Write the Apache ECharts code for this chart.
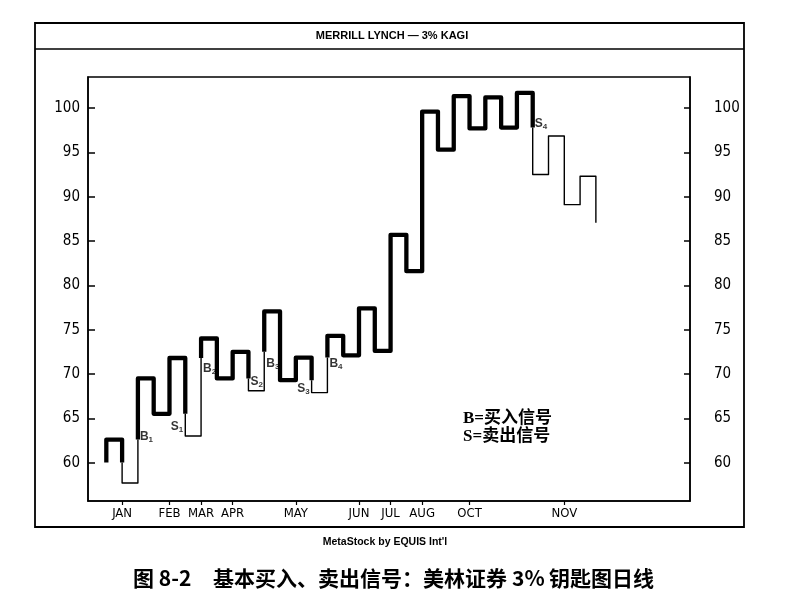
<!DOCTYPE html>
<html>
<head>
<meta charset="utf-8">
<script src="https://cdn.jsdelivr.net/npm/echarts@6/dist/echarts.min.js"></script>
<style>
  html, body { margin: 0; padding: 0; background: #fff; }
  #chart { width: 794px; height: 606px; }
</style>
</head>
<body>
<div id="chart"></div>
<script>
// turning levels of the kagi line, one vertical between each pair
var kagiLevels = [60, 62.6, 57.7, 69.5, 65.5, 71.8, 63.0, 74.0, 69.5, 72.5, 68.1, 77.05,
  69.3, 71.85, 67.9, 74.3, 72.1, 77.4, 72.6, 85.7, 81.6, 99.6, 95.3, 101.35, 97.7,
  101.2, 97.8, 101.7, 92.5, 96.85, 89.1, 92.3, 87.05];
var monthTicks = [1, 4, 6, 8, 12, 16, 18, 20, 23, 29];
var monthNames = ['JAN', 'FEB', 'MAR', 'APR', 'MAY', 'JUN', 'JUL', 'AUG', 'OCT', 'NOV'];
var priceTicks = [60, 65, 70, 75, 80, 85, 90, 95, 100];
var signalNames = ['B1', 'S1', 'B2', 'S2', 'B3', 'S3', 'B4', 'S4'];

// label side / vertical nudge for each signal
var signalPlace = {
  B1: ['right', -3], S1: ['left', 13], B2: ['right', 11], S2: ['right', 3],
  B3: ['right', 12], S3: ['left', 9], B4: ['right', 6], S4: ['right', -4]
};

var narrow = '"DejaVu Sans Condensed", "DejaVu Sans", sans-serif';

// split the line into thick (yang) and thin (yin) runs
var runs = [];
var turns = [];
var thick = true, shoulder = null, waist = kagiLevels[0];
var cur = { thick: true, pts: [[0, kagiLevels[0]]] };
function turn(x, y) {
  cur.pts.push([x, y]);
  runs.push(cur);
  thick = !thick;
  cur = { thick: thick, pts: [[x, y]] };
  turns.push([x, y]);
}
for (var i = 0; i < kagiLevels.length - 1; i++) {
  var a = kagiLevels[i], b = kagiLevels[i + 1];
  if (b > a) {
    if (!thick && shoulder !== null && b > shoulder) turn(i, shoulder);
    shoulder = b;
  } else {
    if (thick && b < waist) turn(i, waist);
    waist = b;
  }
  cur.pts.push([i, b]);
  if (i < kagiLevels.length - 2) cur.pts.push([i + 1, b]);
}
runs.push(cur);

var series = runs.map(function (r) {
  return {
    type: 'line',
    data: r.pts,
    showSymbol: false,
    silent: true,
    lineStyle: { color: '#000', width: r.thick ? 4.3 : 1.4, join: 'round' }
  };
});

// the first turn (below the opening level) carries no signal label
var signalData = turns.slice(1).map(function (t, k) {
  var name = signalNames[k];
  var pl = signalPlace[name];
  return {
    value: [t[0], t[1]],
    name: name,
    label: { position: pl[0], distance: 2, offset: [0, pl[1]] }
  };
});

series.push({
  type: 'scatter',
  data: signalData,
  symbolSize: 0,
  silent: true,
  label: {
    show: true,
    formatter: function (p) {
      return '{m|' + p.name.charAt(0) + '}{s|' + p.name.slice(1) + '}';
    },
    rich: {
      m: { fontSize: 12, fontWeight: 'bold', color: '#000', fontFamily: 'Liberation Sans' },
      s: { fontSize: 8, fontWeight: 'bold', color: '#000', fontFamily: 'Liberation Sans', padding: [6, 0, 0, 0] }
    }
  }
});

function priceAxis(pos, tickLen, margin) {
  return {
    type: 'value',
    position: pos,
    min: 55.67,
    max: 103.5,
    axisLine: { show: true, onZero: false, lineStyle: { color: '#000', width: 1.5 } },
    axisTick: { show: true, inside: true, length: tickLen, customValues: priceTicks,
      lineStyle: { color: '#000', width: 1.5 } },
    axisLabel: { customValues: priceTicks, margin: margin, color: '#000',
      fontSize: 15, fontFamily: narrow },
    splitLine: { show: false }
  };
}

var chart = echarts.init(document.getElementById('chart'), null, { renderer: 'canvas' });
chart.setOption({
  animation: false,
  backgroundColor: '#fff',
  grid: { left: 88, right: 104, top: 77, bottom: 105, show: true,
    borderColor: '#000', borderWidth: 1.5, backgroundColor: 'transparent' },
  xAxis: {
    type: 'value',
    min: -1.16,
    max: 36.96,
    axisLine: { show: true, onZero: false, lineStyle: { color: '#000', width: 1.5 } },
    axisTick: { show: true, length: 4, customValues: monthTicks,
      lineStyle: { color: '#000', width: 1.2 } },
    axisLabel: {
      customValues: monthTicks,
      margin: 6,
      color: '#000',
      fontSize: 13,
      fontFamily: narrow,
      formatter: function (v) { return monthNames[monthTicks.indexOf(v)] || ''; }
    },
    splitLine: { show: false }
  },
  yAxis: [priceAxis('left', 7, 8), priceAxis('right', 6, 24)],
  series: series,
  graphic: [
    { type: 'rect', shape: { x: 35, y: 23, width: 709, height: 504 },
      style: { fill: 'none', stroke: '#000', lineWidth: 1.8 } },
    { type: 'line', shape: { x1: 35, y1: 49, x2: 744, y2: 49 },
      style: { stroke: '#000', lineWidth: 1.5 } },
    { type: 'text', x: 392, y: 36,
      style: { text: 'MERRILL LYNCH \u2014 3% KAGI', fill: '#000', fontSize: 11,
        fontWeight: 'bold', fontFamily: 'Liberation Sans', align: 'center', verticalAlign: 'middle' } },
    { type: 'text', x: 385, y: 542,
      style: { text: "MetaStock by EQUIS Int'l", fill: '#000', fontSize: 10.5,
        fontWeight: 'bold', fontFamily: 'Liberation Sans', align: 'center', verticalAlign: 'middle' } },
    { type: 'text', x: 463, y: 419,
      style: { text: 'B=买入信号', fill: '#000', fontSize: 17, fontWeight: 'bold',
        fontFamily: '"Liberation Serif", "Noto Sans CJK SC"', verticalAlign: 'middle' } },
    { type: 'text', x: 463, y: 437,
      style: { text: 'S=卖出信号', fill: '#000', fontSize: 17, fontWeight: 'bold',
        fontFamily: '"Liberation Serif", "Noto Sans CJK SC"', verticalAlign: 'middle' } },
    { type: 'text', x: 133, y: 578,
      style: { text: '图 8-2', fill: '#000', fontSize: 21, fontWeight: 'bold',
        fontFamily: '"Noto Sans CJK SC"', verticalAlign: 'middle' } },
    { type: 'text', x: 213, y: 578,
      style: { text: '基本买入、卖出信号：美林证券', fill: '#000', fontSize: 21, fontWeight: 'bold',
        fontFamily: '"Noto Sans CJK SC"', verticalAlign: 'middle' } },
    { type: 'text', x: 512, y: 578,
      style: { text: '3%', fill: '#000', fontSize: 21, fontWeight: 'bold',
        fontFamily: '"Noto Sans CJK SC"', verticalAlign: 'middle' } },
    { type: 'text', x: 549, y: 578,
      style: { text: '钥匙图日线', fill: '#000', fontSize: 21, fontWeight: 'bold',
        fontFamily: '"Noto Sans CJK SC"', verticalAlign: 'middle' } }
  ]
});
</script>
</body>
</html>
